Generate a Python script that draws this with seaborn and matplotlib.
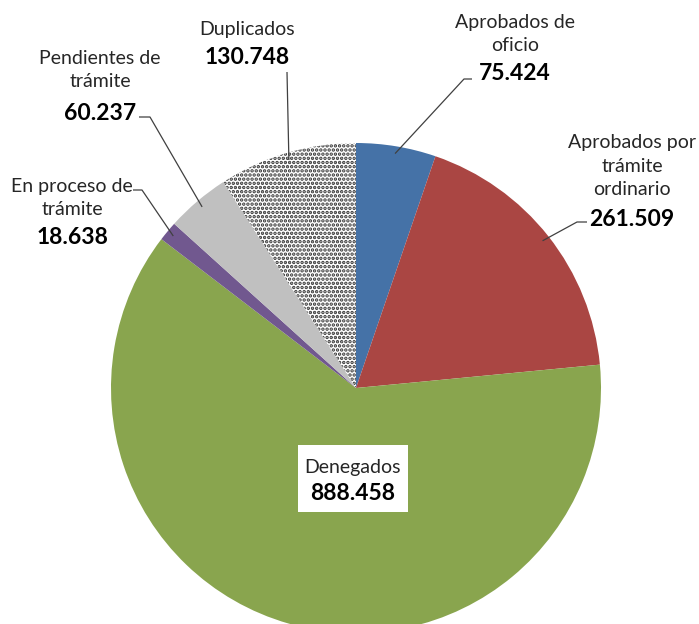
import numpy as np
import matplotlib
matplotlib.use("Agg")
import matplotlib.pyplot as plt
from matplotlib.patches import Rectangle
import seaborn as sns

# ---- data ----
categories = ["Aprobados de\noficio", "Aprobados por\ntrámite\nordinario", "Denegados",
              "En proceso de\ntrámite", "Pendientes de\ntrámite", "Duplicados"]
values = [75424, 261509, 888458, 18638, 60237, 130748]
value_labels = ["75.424", "261.509", "888.458", "18.638", "60.237", "130.748"]
colors = ["#4572A7", "#AA4643", "#89A54E", "#71588F", "#C0C0C0", "#FFFFFF"]

sns.set_theme(style="white")
plt.rcParams["font.family"] = ["Lato", "DejaVu Sans"]
plt.rcParams["hatch.color"] = "#333333"
plt.rcParams["hatch.linewidth"] = 1.7

W, H, DPI = 699, 624, 100
CX, CY, R = 356, 388, 245  # pie centre / radius in pixels

fig = plt.figure(figsize=(W / DPI, H / DPI), dpi=DPI)
ax = fig.add_axes([0, 0, 1, 1])

def px(x, y):
    return ((x - CX) / R, (CY - y) / R)

wedges, _ = ax.pie(values, colors=colors, startangle=90, counterclock=False,
                   radius=1.0, center=(0, 0), frame=True,
                   wedgeprops=dict(linewidth=0))
ax.set_xlim(-CX / R, (W - CX) / R)
ax.set_ylim(-(H - CY) / R, CY / R)
ax.axis("off")
wedges[5].set_hatch("....")
wedges[5].set_edgecolor("#333333")
wedges[5].set_linewidth(0)

# mid angles from data
total = sum(values)
cum = np.cumsum([0] + values)
mids = [90 - 360 * (cum[i] + values[i] / 2) / total for i in range(len(values))]

def edge_point(i):
    a = np.deg2rad(mids[i])
    return np.cos(a), np.sin(a)

# label layout (pixels): name centre x, name centre y, number centre y, elbow, line end
layout = {
    0: dict(x=515, yn=34, yv=74, elbow=(464, 79), end=(472, 79)),
    1: dict(x=632, yn=166, yv=219, elbow=(577, 222), end=(587, 222)),
    3: dict(x=72, yn=198, yv=238, elbow=(142, 190), end=(133, 190)),
    4: dict(x=100, yn=70, yv=113, elbow=(150, 117), end=(139, 117)),
    5: dict(x=247, yn=30, yv=58, elbow=(287, 72), end=(287, 72)),
}

fs_name = 14
fs_val = 16.5
for i, L in layout.items():
    tx, ty = px(L["x"], L["yn"])
    ax.text(tx, ty, categories[i], ha="center", va="center", fontsize=fs_name,
            color="#262626", linespacing=1.45)
    tx, ty = px(L["x"], L["yv"])
    ax.text(tx, ty, value_labels[i], ha="center", va="center", fontsize=fs_val,
            fontweight="bold", color="black")
    ex, ey = edge_point(i)
    bx, by = px(*L["elbow"])
    fx, fy = px(*L["end"])
    ax.plot([ex * 0.97, bx, fx], [ey * 0.97, by, fy], color="#404040", lw=0.9,
            solid_capstyle="butt")

# Denegados label inside a white box
x0, y0 = px(298, 512)
x1, y1 = px(408, 445)
ax.add_patch(Rectangle((x0, y0), x1 - x0, y1 - y0, facecolor="white",
                       edgecolor="none", zorder=3))
tx, ty = px(353, 467)
ax.text(tx, ty, categories[2], ha="center", va="center", fontsize=fs_name,
        color="#262626", zorder=4)
tx, ty = px(353, 493)
ax.text(tx, ty, value_labels[2], ha="center", va="center", fontsize=fs_val,
        fontweight="bold", color="black", zorder=4)

fig.savefig("out.png", dpi=DPI, facecolor="white")
